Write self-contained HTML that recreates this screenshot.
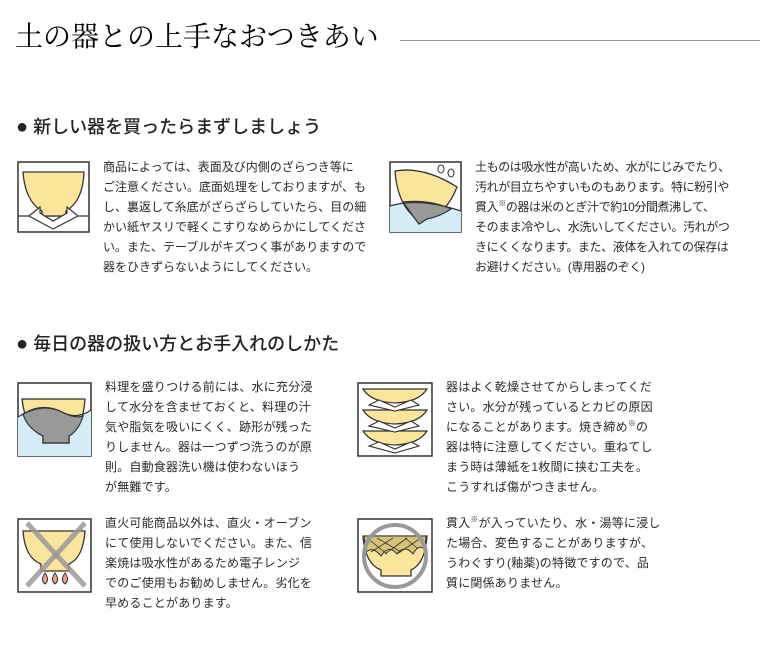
<!DOCTYPE html>
<html><head><meta charset="utf-8"><style>
body{margin:0;width:760px;height:665px;background:#fff;position:relative;overflow:hidden;font-family:"Liberation Sans","Noto Sans CJK JP",sans-serif;color:#2a2a2a}
.a{position:absolute}
.title{left:15px;top:20px;font:28px/36px "Liberation Serif","Noto Serif CJK SC",serif;color:#000;white-space:nowrap}
.h{font-size:18px;line-height:24px;white-space:nowrap;color:#222;font-weight:500}
.t{font-size:12px;line-height:20px;white-space:nowrap}
sup{font-size:8px;vertical-align:5px;line-height:0}
svg{position:absolute}
</style></head><body>
<div class="a title">土の器との上手なおつきあい</div>
<div class="a" style="left:400px;top:40px;width:360px;height:1px;background:#999"></div>
<div class="a h" style="left:16px;top:115px"><span style="font-size:20px">●</span> 新しい器を買ったらまずしましょう</div>
<div class="a h" style="left:16px;top:332px"><span style="font-size:20px">●</span> 毎日の器の扱い方とお手入れのしかた</div>

<svg style="left:17px;top:161px" width="73" height="72" viewBox="0 0 73 72">
<rect x="1" y="1" width="71" height="70" fill="#fff" stroke="#333" stroke-width="1.5"/>
<line x1="1" y1="55" x2="72" y2="55" stroke="#333" stroke-width="1.2"/>
<path d="M6 11 H67 Q66 40 49 50 V55 H25 V50 Q8 40 6 11Z" fill="#fbe59a" stroke="#333" stroke-width="1.3"/>
<path d="M23 46 L12 55 L36 68 L61 55 L50 46 L50 52 L36 60 L23 52Z" fill="#fff" stroke="#333" stroke-width="1.2"/>
</svg>
<div class="a t" style="left:103px;top:157px;letter-spacing:0px">商品によっては、表面及び内側のざらつき等に<br>ご注意ください。底面処理をしておりますが、も<br>し、裏返して糸底がざらざらしていたら、目の細<br>かい紙ヤスリで軽くこすりなめらかにしてくださ<br>い。また、テーブルがキズつく事がありますので<br>器をひきずらないようにしてください。</div>

<svg style="left:389px;top:161px" width="73" height="72" viewBox="0 0 73 72">
<rect x="1" y="1" width="71" height="70" fill="#fff" stroke="#333" stroke-width="1.5"/>
<path d="M1 45 Q30 36 72 50 V71 H1Z" fill="#d6ecf6"/>
<path d="M6 10 Q35 5 68 26 Q58 52 38 58 L30 63 L24 55 Q8 40 6 10Z" fill="#fbe59a" stroke="#333" stroke-width="1.3"/>
<path d="M14 41 Q40 38 62 48 Q50 56 38 58 L30 63 L24 55Z" fill="#999" stroke="#333" stroke-width="1.2"/>
<path d="M1 45 Q30 36 72 50" fill="none" stroke="#333" stroke-width="1.2"/>
<ellipse cx="52" cy="8" rx="3" ry="4" fill="#fff" stroke="#333"/><ellipse cx="62" cy="12" rx="3" ry="4" fill="#fff" stroke="#333"/>
</svg>
<div class="a t" style="left:475px;top:157px;letter-spacing:-0.4px">土ものは吸水性が高いため、水がにじみでたり、<br>汚れが目立ちやすいものもあります。特に粉引や<br>貫入<sup>※</sup>の器は米のとぎ汁で約10分間煮沸して、<br>そのまま冷やし、水洗いしてください。汚れがつ<br>きにくくなります。また、液体を入れての保存は<br>お避けください。(専用器のぞく)</div>

<svg style="left:17px;top:382px" width="75" height="75" viewBox="0 0 75 75">
<rect x="1" y="1" width="73" height="73" fill="#fff" stroke="#333" stroke-width="1.5"/>
<path d="M1 35 Q25 20 45 30 Q60 38 74 28 V74 H1Z" fill="#d6ecf6"/>
<path d="M5 17 H68 Q66 46 52 54 V61 H26 V54 Q8 46 5 17Z" fill="#fbe59a" stroke="#333" stroke-width="1.3"/>
<path d="M6 32 Q25 20 45 30 Q58 37 66 34 Q62 48 52 54 V61 H26 V54 Q10 46 6 32Z" fill="#999" stroke="#333" stroke-width="1.2"/>
<path d="M1 35 Q25 20 45 30 Q60 38 74 28" fill="none" stroke="#333" stroke-width="1.2"/>
</svg>
<div class="a t" style="left:105px;top:377px;letter-spacing:0.2px">料理を盛りつける前には、水に充分浸<br>して水分を含ませておくと、料理の汁<br>気や脂気を吸いにくく、跡形が残った<br>りしません。器は一つずつ洗うのが原<br>則。自動食器洗い機は使わないほう<br>が無難です。</div>

<svg style="left:357px;top:382px" width="76" height="75" viewBox="0 0 76 75">
<rect x="1" y="1" width="74" height="73" fill="#fff" stroke="#333" stroke-width="1.5"/>
<g fill="#fbe59a" stroke="#333" stroke-width="1.2">
<path d="M6 7 H70 Q62 20 38 21 Q14 20 6 7Z"/>
<path d="M6 28 H70 Q62 41 38 42 Q14 41 6 28Z"/>
<path d="M6 49 H70 Q62 62 38 63 Q14 62 6 49Z"/>
</g>
<g fill="#fff" stroke="#333" stroke-width="1.1">
<path d="M22 18 L12 23 L38 29 L62 23 L54 18 L38 25Z"/>
<path d="M22 39 L12 44 L38 50 L62 44 L54 39 L38 46Z"/>
<path d="M22 60 L12 64 L38 71 L62 64 L54 60 L38 67Z"/>
</g>
</svg>
<div class="a t" style="left:446px;top:377px;letter-spacing:0.2px">器はよく乾燥させてからしまってくだ<br>さい。水分が残っているとカビの原因<br>になることがあります。焼き締め<sup>※</sup>の<br>器は特に注意してください。重ねてし<br>まう時は薄紙を1枚間に挟む工夫を。<br>こうすれば傷がつきません。</div>

<svg style="left:17px;top:518px" width="75" height="75" viewBox="0 0 75 75">
<rect x="1" y="1" width="73" height="73" fill="#fff" stroke="#333" stroke-width="1.5"/>
<path d="M6 13 H68 Q66 40 52 46 V53 H24 V46 Q8 40 6 13Z" fill="#fbe59a" stroke="#333" stroke-width="1.3"/>
<line x1="10" y1="5" x2="68" y2="68" stroke="#999" stroke-width="5" opacity="0.85"/>
<line x1="68" y1="5" x2="10" y2="68" stroke="#999" stroke-width="5" opacity="0.85"/>
<g fill="#f3a08e" stroke="#333" stroke-width="1"><path d="M28 55 Q23 62 28 66 Q33 62 28 55Z"/><path d="M38 55 Q33 62 38 66 Q43 62 38 55Z"/><path d="M48 55 Q43 62 48 66 Q53 62 48 55Z"/></g>
</svg>
<div class="a t" style="left:105px;top:513px;letter-spacing:0.2px">直火可能商品以外は、直火・オーブン<br>にて使用しないでください。また、信<br>楽焼は吸水性があるため電子レンジ<br>でのご使用もお勧めしません。劣化を<br>早めることがあります。</div>

<svg style="left:357px;top:518px" width="76" height="75" viewBox="0 0 76 75">
<rect x="1" y="1" width="74" height="73" fill="#fff" stroke="#333" stroke-width="1.5"/>
<path d="M6 18 H70 Q68 46 54 52 V58 H24 V52 Q8 46 6 18Z" fill="#fbe59a" stroke="#333" stroke-width="1.3"/>
<path d="M7 18 H69 L68 32 Q62 25 56 36 Q48 26 40 36 Q32 26 24 38 Q16 28 9 34Z" fill="#d8c27a" stroke="#333"/>
<path d="M10 20 L30 36 M20 20 L44 34 M36 20 L14 34 M50 20 L28 36 M64 20 L40 36 M60 30 L48 20" stroke="#333" stroke-width="0.8"/>
<circle cx="38" cy="38" r="31" fill="none" stroke="#999" stroke-width="4"/>
</svg>
<div class="a t" style="left:446px;top:513px;letter-spacing:0.2px">貫入<sup>※</sup>が入っていたり、水・湯等に浸し<br>た場合、変色することがありますが、<br>うわぐすり(釉薬)の特徴ですので、品<br>質に関係ありません。</div>
</body></html>
